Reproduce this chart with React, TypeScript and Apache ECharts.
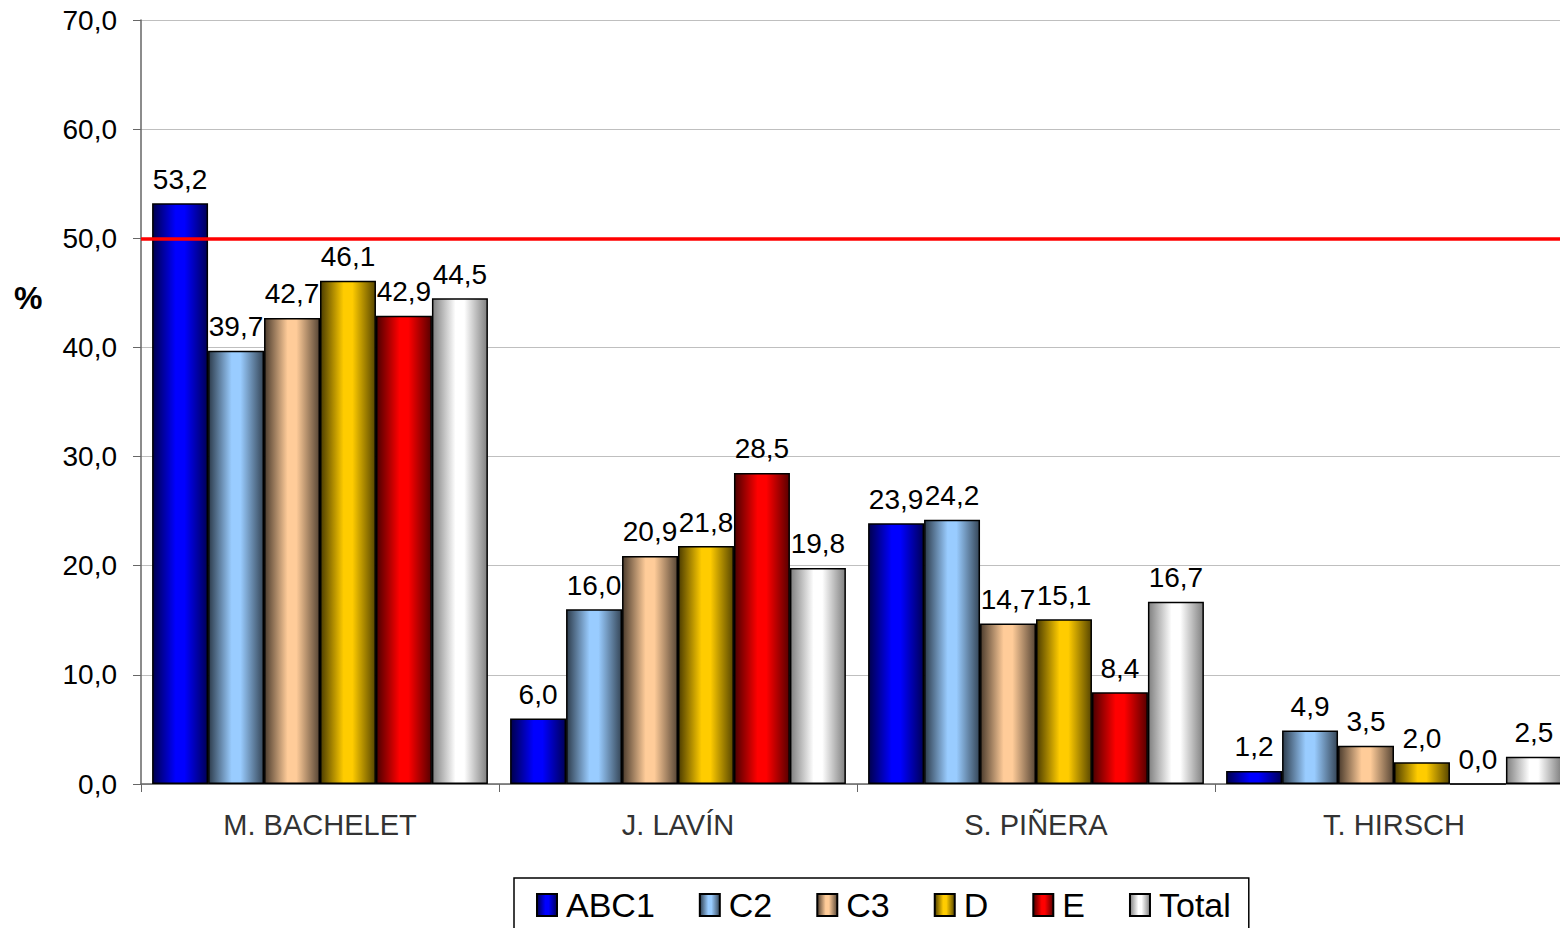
import React, { useEffect, useRef } from "react";
import * as echarts from "echarts";

const categories = ["M. BACHELET", "J. LAVÍN", "S. PIÑERA", "T. HIRSCH"];
const seriesNames = ["ABC1", "C2", "C3", "D", "E", "Total"];
const abc1 = [53.2, 6.0, 23.9, 1.2];
const c2 = [39.7, 16.0, 24.2, 4.9];
const c3 = [42.7, 20.9, 14.7, 3.5];
const d = [46.1, 21.8, 15.1, 2.0];
const e = [42.9, 28.5, 8.4, 0.0];
const total = [44.5, 19.8, 16.7, 2.5];
const yTicks = [0, 10, 20, 30, 40, 50, 60, 70];
const threshold = 50;

const seriesValues = [abc1, c2, c3, d, e, total];
const baseColors = ["#0000FF", "#99CCFF", "#FFCC99", "#FFCC00", "#FF0000", "#FFFFFF"];

function shade(hex: string, f: number): string {
  const n = parseInt(hex.slice(1), 16);
  const r = Math.round(((n >> 16) & 255) * f);
  const g = Math.round(((n >> 8) & 255) * f);
  const b = Math.round((n & 255) * f);
  return "rgb(" + r + "," + g + "," + b + ")";
}

function grad(hex: string) {
  const isWhite = hex === "#FFFFFF";
  const l = isWhite ? 0.5 : 0.3;
  const r = isWhite ? 0.5 : 0.35;
  return new echarts.graphic.LinearGradient(0, 0, 1, 0, [
    { offset: 0, color: shade(hex, l) },
    { offset: 0.42, color: hex },
    { offset: 0.58, color: hex },
    { offset: 1, color: shade(hex, r) },
  ]);
}

const FONT = "'Liberation Sans', Arial, sans-serif";

export default function App() {
  const ref = useRef<HTMLDivElement>(null);
  useEffect(() => {
    if (!ref.current) return;
    const chart = echarts.init(ref.current, null, { renderer: "svg" });
    const fmt = (v: number) => v.toFixed(1).replace(".", ",");
    const series: any[] = seriesNames.map((name, i) => ({
      name,
      type: "bar",
      data: seriesValues[i],
      barGap: "0%",
      barCategoryGap: "6.2%",
      itemStyle: {
        color: grad(baseColors[i]),
        borderColor: "#000",
        borderWidth: 1.5,
      },
      label: {
        show: true,
        position: "top",
        distance: 10,
        color: "#000",
        fontSize: 28,
        fontFamily: FONT,
        formatter: (p: any) => fmt(p.value),
      },
      markLine:
        i === 0
          ? {
              silent: true,
              symbol: "none",
              label: { show: false },
              lineStyle: { color: "#FF0000", width: 3.5, type: "solid" },
              data: [{ yAxis: threshold }],
            }
          : undefined,
      z: 2,
    }));
    chart.setOption({
      animation: false,
      backgroundColor: "#fff",
      textStyle: { fontFamily: FONT },
      grid: { left: 141, top: 20, bottom: 144, right: 0, containLabel: false },
      legend: {
        data: seriesNames,
        left: 514,
        top: 878,
        orient: "horizontal",
        icon: "rect",
        itemWidth: 20,
        itemHeight: 22,
        itemGap: 44,
        padding: [10, 18, 14, 22],
        borderColor: "#000",
        borderWidth: 1.5,
        textStyle: { fontSize: 34, color: "#000", fontFamily: FONT, padding: [0, 0, 0, 4] },
      },
      xAxis: {
        type: "category",
        data: categories,
        axisLine: { lineStyle: { color: "#666", width: 1.5 } },
        axisTick: { show: true, length: 8, lineStyle: { color: "#666" } },
        axisLabel: { color: "#333", fontSize: 29, margin: 26, fontFamily: FONT },
      },
      yAxis: {
        type: "value",
        min: yTicks[0],
        max: yTicks[yTicks.length - 1],
        interval: 10,
        axisLine: { show: true, lineStyle: { color: "#666", width: 1.5 } },
        axisTick: { show: true, length: 8, lineStyle: { color: "#666" } },
        axisLabel: {
          color: "#000",
          fontSize: 28,
          margin: 24,
          fontFamily: FONT,
          formatter: (v: number) => fmt(v),
        },
        splitLine: { show: true, lineStyle: { color: "#BFBFBF", width: 1 } },
      },
      graphic: [
        {
          type: "text",
          left: 14,
          top: 282,
          style: { text: "%", fontSize: 32, fontWeight: "bold", fill: "#000", fontFamily: FONT },
        },
      ],
      series,
    });
    return () => chart.dispose();
  }, []);
  return (
    <div style={{ position: "absolute", left: 0, top: 0, width: 1560, height: 928, overflow: "hidden" }}>
      <div ref={ref} style={{ width: 1573, height: 928 }} />
    </div>
  );
}
